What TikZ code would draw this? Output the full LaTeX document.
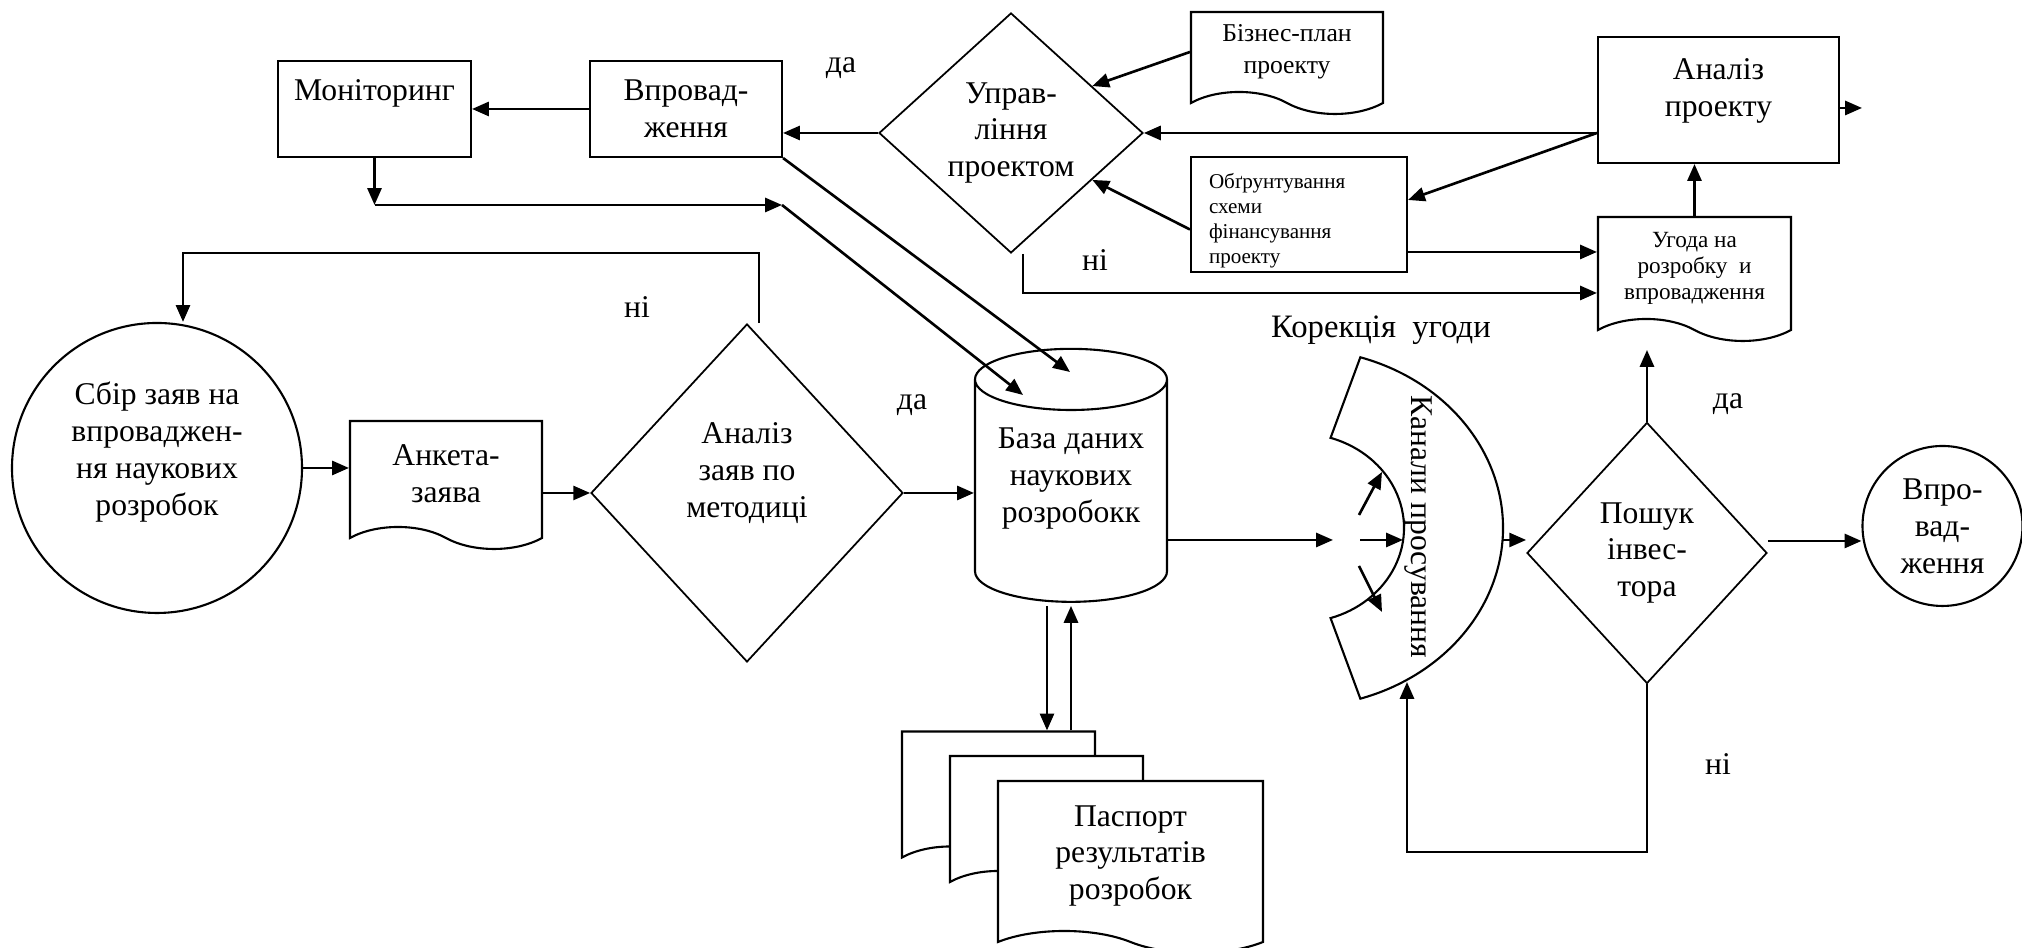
\documentclass[tikz,border=0pt]{standalone}
\usepackage{fontspec}
\setmainfont{Liberation Serif}
\usetikzlibrary{shapes.geometric, shapes.symbols, arrows.meta, calc}

\tikzset{
    blk/.style={rectangle, draw, line width=0.6pt, align=center, inner sep=2pt},
    dokument/.style={tape, draw, line width=0.6pt, tape bend top=none, tape bend bottom=out and in, tape bend height=2.2mm, align=center, fill=white, inner sep=2pt},
    rishennia/.style={diamond, draw, line width=0.5pt, align=center, inner sep=0pt},
    kolo/.style={circle, draw, line width=0.6pt, align=center, inner sep=0pt},
    napys/.style={inner sep=0pt},
    zv/.style={->, line width=0.75pt},
}

\begin{document}
\begin{tikzpicture}[>={Triangle[length=4.8pt,width=4pt]}, font=\fontsize{9}{10.5}\selectfont]
    \useasboundingbox (0,0) rectangle (20.22,9.48);

    % top row
    \node[blk, minimum width=1.93cm, minimum height=0.96cm, text depth=11pt] at (3.745, 8.39) (mon) {Моніторинг};
    \node[blk, minimum width=1.92cm, minimum height=0.96cm] at (6.86, 8.39) (vpr) {Впровад-\\ження};
    \node[rishennia, minimum width=2.64cm, minimum height=2.40cm] at (10.11, 8.15) (upr) {Управ-\\ління\\проектом};
    \node[dokument, minimum width=1.92cm, minimum height=1.02cm, font=\fontsize{7.3}{9}\selectfont] at (12.87, 8.96) (biz) {Бізнес-план\\проекту};
    \node[blk, minimum width=2.16cm, minimum height=1.15cm, text width=1.8cm, align=left, inner ysep=0pt, text height=8pt, font=\fontsize{6}{7.1}\selectfont] at (12.99, 7.335) (obg) {Обґрунтування\\схеми\\фінансування\\проекту};
    \node[blk, minimum width=2.41cm, minimum height=1.26cm, text depth=7pt] at (17.185, 8.48) (anp) {Аналіз\\проекту};
    \node[dokument, minimum width=1.93cm, minimum height=1.24cm, font=\fontsize{6.6}{7.4}\selectfont] at (16.945, 6.80) (ugd) {Угода на\\розробку~ и\\впровадження};

    % middle row
    \node[kolo, minimum size=2.9cm, text depth=11pt] at (1.57, 4.80) (sbir) {Сбір заяв на\\впроваджен-\\ня наукових\\розробок};
    \node[dokument, minimum width=1.92cm, minimum height=1.28cm] at (4.46, 4.74) (ank) {Анкета-\\заява};
    \node[rishennia, minimum width=3.12cm, minimum height=3.38cm, text depth=13pt] at (7.47, 4.55) (anz) {Аналіз\\заяв по\\методиці};
    \node[cylinder, shape border rotate=90, draw, line width=0.6pt, aspect=0.36, minimum width=1.92cm, minimum height=2.53cm, text depth=13.4pt, align=center] at (10.71, 4.495) (bd) {База даних\\наукових\\розробокк};
    \node[rishennia, minimum width=2.40cm, minimum height=2.61cm] at (16.47, 3.95) (posh) {Пошук\\інвес-\\тора};
    \node[kolo, minimum size=1.6cm] at (19.425, 4.22) (vn) {Впро-\\вад-\\ження};

    % channels
    \coordinate (kc) at (12.99, 4.20);
    \draw[line width=0.6pt] ($(kc)+(72.5:2.04 and 1.79)$) arc[start angle=72.5, end angle=-72.5, x radius=2.04cm, y radius=1.79cm]
        -- ($(kc)+(-72.5:1.05 and 0.945)$) arc[start angle=-72.5, end angle=72.5, x radius=1.05cm, y radius=0.945cm] -- cycle;
    \node[rotate=-90] at (14.18, 4.21) (kantxt) {Канали просування};

    % passports
    \node[dokument, minimum width=1.93cm, minimum height=1.37cm] at (9.985, 1.59) (pas1) {};
    \node[dokument, minimum width=1.93cm, minimum height=1.37cm] at (10.465, 1.345) (pas2) {};
    \node[dokument, minimum width=2.65cm, minimum height=1.72cm] at (11.305, 0.92) (pas3) {Паспорт\\результатів\\розробок};

    % labels
    \node[napys] at (8.41, 8.80) (da1) {да};
    \node[napys] at (6.37, 6.41) (ni1) {ні};
    \node[napys] at (9.12, 5.43) (da2) {да};
    \node[napys] at (10.95, 6.88) (ni2) {ні};
    \node[napys] at (17.28, 5.44) (da3) {да};
    \node[napys] at (17.18, 1.84) (ni3) {ні};
    \node[napys, font=\fontsize{9.3}{11}\selectfont] at (13.81, 6.18) (kor) {Корекція~ угоди};

    \coordinate (m1) at (3.745, 7.43);
    \coordinate (m2) at (7.82, 7.43);
    \coordinate (bdin1) at (10.23, 5.53);
    \coordinate (bdin2) at (10.70, 5.76);
    \coordinate (nloop1) at (1.83, 6.95);
    \coordinate (kin) at (13.33, 4.08);
    \coordinate (kout) at (15.03, 4.08);
    \coordinate (nloop2) at (14.07, 0.96);
    \coordinate (kbot) at (14.07, 2.66);
    \coordinate (ugdin) at (16.47, 5.98);
    \coordinate (anpout) at (18.62, 8.40);
    \coordinate (anpl) at (anp.west |- upr.east);
    \coordinate (a1) at (13.59, 4.33);
    \coordinate (a2) at (13.82, 4.76);
    \coordinate (b1) at (13.60, 4.08);
    \coordinate (b2) at (14.03, 4.08);
    \coordinate (c1) at (13.59, 3.82);
    \coordinate (c2) at (13.82, 3.36);

    \draw[zv] (vpr) -- (mon);
    \draw[zv] (upr.west) -- (upr.west -| vpr.east);
    \draw[zv] (mon.south) -- (m1);
    \draw[zv] (m1) -- (m2);
    \draw[zv] (m2) -- (bdin1);
    \draw[zv] (vpr.south east) -- (bdin2);
    \draw[zv] ([xshift=1.2mm]anz.north) |- (nloop1) -- (nloop1 |- sbir.north);
    \draw[zv] (sbir.east) -- (sbir.east -| ank.west);
    \draw[zv] (ank.east |- anz.west) -- (anz.west);
    \draw[zv] (anz.east) -- (anz.east -| bd.west);
    \draw[zv] (bd.east |- kin) -- (kin);
    \draw[zv] (a1) -- (a2);
    \draw[zv] (b1) -- (b2);
    \draw[zv] (c1) -- (c2);
    \draw[zv] (kout) -- (kout -| posh.west);
    \draw[zv] ([yshift=1.2mm]posh.east) -- ([yshift=1.2mm]posh.east -| vn.west);
    \draw[zv] (posh.south) |- (nloop2) -- (kbot);
    \draw[zv] (posh.north) -- (ugdin);
    \draw[zv] (ugd.north) -- (ugd.north |- anp.south);
    \draw[zv] (anpl) -- (upr.east);
    \draw[zv] (anpl) -- ([yshift=1.45mm]obg.east);
    \draw[zv] ([yshift=-3.75mm]obg.east) -- ([yshift=-3.75mm]obg.east -| ugd.west);
    \draw[zv] ([xshift=1.2mm]upr.south) |- ([yshift=-2.5mm]ugd.west);
    \draw[zv] (biz.west) -- (upr.30);
    \draw[zv] ([yshift=-1.5mm]obg.west) -- (upr.-30);
    \draw[zv] (anp.east |- anpout) -- (anpout);
    \draw[zv] ([xshift=-2.4mm, yshift=-0.3mm]bd.south) -- ([xshift=-2.4mm]bd.south |- pas1.north);
    \draw[zv] (bd.south |- pas1.north) -- ([yshift=-0.3mm]bd.south);
\end{tikzpicture}
\end{document}
